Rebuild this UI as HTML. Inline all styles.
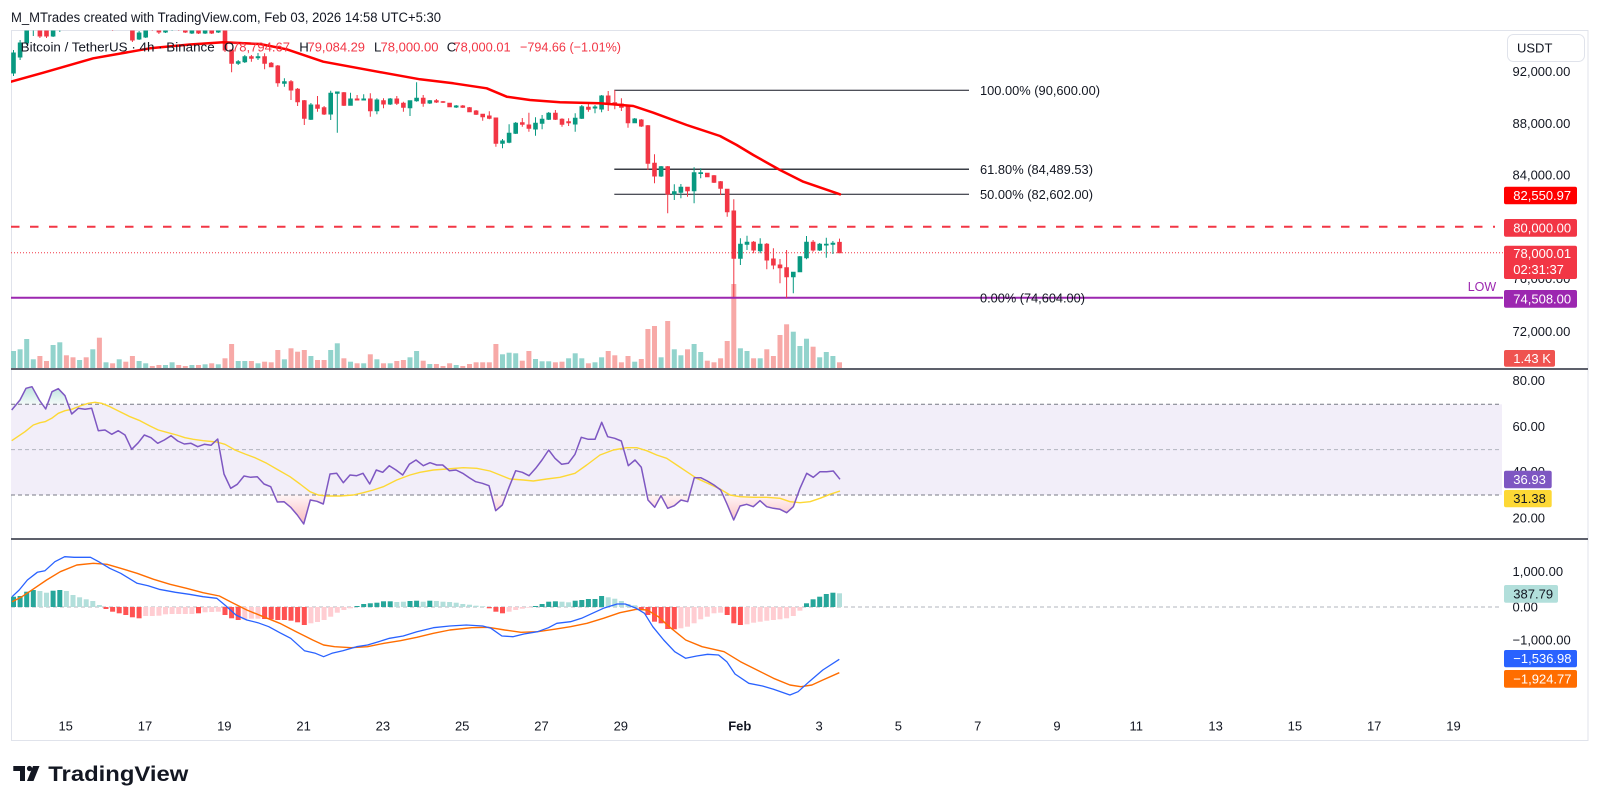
<!DOCTYPE html>
<html><head><meta charset="utf-8"><style>
html,body{margin:0;padding:0;background:#fff;}
svg{display:block;font-family:"Liberation Sans",sans-serif;}
</style></head><body>
<svg width="1600" height="807" viewBox="0 0 1600 807" xmlns="http://www.w3.org/2000/svg">
<defs>
<clipPath id="cpMain"><rect x="11" y="30.5" width="1492" height="338"/></clipPath>
<clipPath id="cpOB"><rect x="11" y="370" width="1492" height="34.3"/></clipPath>
<clipPath id="cpOS"><rect x="11" y="495" width="1492" height="43"/></clipPath>
<linearGradient id="gOS" x1="0" y1="495" x2="0" y2="525" gradientUnits="userSpaceOnUse"><stop offset="0" stop-color="#f23645" stop-opacity="0.05"/><stop offset="1" stop-color="#f23645" stop-opacity="0.35"/></linearGradient>
<linearGradient id="gOB" x1="0" y1="404" x2="0" y2="384" gradientUnits="userSpaceOnUse"><stop offset="0" stop-color="#089981" stop-opacity="0.05"/><stop offset="1" stop-color="#089981" stop-opacity="0.3"/></linearGradient>
</defs>
<rect width="1600" height="807" fill="#fff"/>

<!-- header -->
<text x="11" y="22" font-size="13.5" fill="#131722" textLength="430" lengthAdjust="spacingAndGlyphs">M_MTrades created with TradingView.com, Feb 03, 2026 14:58 UTC+5:30</text>

<!-- frame -->
<rect x="11.5" y="30.5" width="1576.5" height="710" fill="none" stroke="#e0e3eb" stroke-width="1"/>

<!-- ===== MAIN PANE ===== -->
<g clip-path="url(#cpMain)">
<!-- volume -->
<g fill="#92d3cc">
<rect x="11" y="351" width="5" height="17"/><rect x="17.6" y="349.3" width="5" height="18.7"/><rect x="24.2" y="339" width="5" height="29"/><rect x="30.8" y="359.3" width="5" height="8.7"/><rect x="50.6" y="345" width="5" height="23"/><rect x="57.3" y="342.3" width="5" height="25.7"/><rect x="77.1" y="360" width="5" height="8"/><rect x="90.3" y="349.3" width="5" height="18.7"/><rect x="103.5" y="362.3" width="5" height="5.7"/><rect x="116.7" y="359.3" width="5" height="8.7"/><rect x="136.6" y="361" width="5" height="7"/><rect x="143.2" y="363.3" width="5" height="4.7"/><rect x="163" y="365" width="5" height="3"/><rect x="169.6" y="362.3" width="5" height="5.7"/><rect x="189.4" y="365" width="5" height="3"/><rect x="202.6" y="364.3" width="5" height="3.7"/><rect x="215.8" y="364.3" width="5" height="3.7"/><rect x="235.7" y="361" width="5" height="7"/><rect x="242.3" y="361" width="5" height="7"/><rect x="255.5" y="363.3" width="5" height="4.7"/><rect x="281.9" y="359.3" width="5" height="8.7"/><rect x="308.4" y="356" width="5" height="12"/><rect x="328.2" y="350" width="5" height="18"/><rect x="334.8" y="343.3" width="5" height="24.7"/><rect x="348" y="361.7" width="5" height="6.3"/><rect x="361.2" y="363.3" width="5" height="4.7"/><rect x="374.4" y="359.3" width="5" height="8.7"/><rect x="387.7" y="363.3" width="5" height="4.7"/><rect x="407.5" y="357.3" width="5" height="10.7"/><rect x="414.1" y="351" width="5" height="17"/><rect x="427.3" y="364" width="5" height="4"/><rect x="453.7" y="365" width="5" height="3"/><rect x="500" y="354.3" width="5" height="13.7"/><rect x="506.6" y="352.7" width="5" height="15.3"/><rect x="513.2" y="353.3" width="5" height="14.7"/><rect x="533" y="359" width="5" height="9"/><rect x="539.6" y="361.3" width="5" height="6.7"/><rect x="546.2" y="361.3" width="5" height="6.7"/><rect x="566.1" y="358.3" width="5" height="9.7"/><rect x="572.7" y="353.3" width="5" height="14.7"/><rect x="579.3" y="358.3" width="5" height="9.7"/><rect x="592.5" y="362.3" width="5" height="5.7"/><rect x="599.1" y="357.3" width="5" height="10.7"/><rect x="632.2" y="361.7" width="5" height="6.3"/><rect x="658.6" y="357.3" width="5" height="10.7"/><rect x="671.8" y="349.3" width="5" height="18.7"/><rect x="678.4" y="355.3" width="5" height="12.7"/><rect x="691.6" y="344" width="5" height="24"/><rect x="698.2" y="352" width="5" height="16"/><rect x="737.9" y="348.3" width="5" height="19.7"/><rect x="744.5" y="351" width="5" height="17"/><rect x="757.7" y="358.3" width="5" height="9.7"/><rect x="790.8" y="331.7" width="5" height="36.3"/><rect x="797.4" y="346" width="5" height="22"/><rect x="804" y="338.7" width="5" height="29.3"/><rect x="817.2" y="357.3" width="5" height="10.7"/><rect x="823.8" y="352" width="5" height="16"/><rect x="830.4" y="356" width="5" height="12"/>
</g>
<g fill="#f7a9a7">
<rect x="37.4" y="356" width="5" height="12"/><rect x="44" y="361" width="5" height="7"/><rect x="63.9" y="355.3" width="5" height="12.7"/><rect x="70.5" y="357.3" width="5" height="10.7"/><rect x="83.7" y="357.3" width="5" height="10.7"/><rect x="96.9" y="337.7" width="5" height="30.3"/><rect x="110.1" y="363.3" width="5" height="4.7"/><rect x="123.3" y="361.7" width="5" height="6.3"/><rect x="129.9" y="356" width="5" height="12"/><rect x="149.8" y="366" width="5" height="2"/><rect x="156.4" y="365" width="5" height="3"/><rect x="176.2" y="365" width="5" height="3"/><rect x="182.8" y="366" width="5" height="2"/><rect x="196" y="365" width="5" height="3"/><rect x="209.2" y="363.3" width="5" height="4.7"/><rect x="222.5" y="358.3" width="5" height="9.7"/><rect x="229.1" y="344" width="5" height="24"/><rect x="248.9" y="361" width="5" height="7"/><rect x="262.1" y="361.7" width="5" height="6.3"/><rect x="268.7" y="362.3" width="5" height="5.7"/><rect x="275.3" y="350" width="5" height="18"/><rect x="288.5" y="348.3" width="5" height="19.7"/><rect x="295.1" y="351.7" width="5" height="16.3"/><rect x="301.8" y="350" width="5" height="18"/><rect x="315" y="360" width="5" height="8"/><rect x="321.6" y="360" width="5" height="8"/><rect x="341.4" y="358.3" width="5" height="9.7"/><rect x="354.6" y="363.3" width="5" height="4.7"/><rect x="367.8" y="354.3" width="5" height="13.7"/><rect x="381" y="363.3" width="5" height="4.7"/><rect x="394.3" y="361" width="5" height="7"/><rect x="400.9" y="360" width="5" height="8"/><rect x="420.7" y="360.7" width="5" height="7.3"/><rect x="433.9" y="364" width="5" height="4"/><rect x="440.5" y="366" width="5" height="2"/><rect x="447.1" y="363.3" width="5" height="4.7"/><rect x="460.3" y="366" width="5" height="2"/><rect x="467" y="364" width="5" height="4"/><rect x="473.6" y="362.3" width="5" height="5.7"/><rect x="480.2" y="362.3" width="5" height="5.7"/><rect x="486.8" y="362.3" width="5" height="5.7"/><rect x="493.4" y="344" width="5" height="24"/><rect x="519.8" y="360.7" width="5" height="7.3"/><rect x="526.4" y="351" width="5" height="17"/><rect x="552.9" y="362.3" width="5" height="5.7"/><rect x="559.5" y="361.7" width="5" height="6.3"/><rect x="585.9" y="363.3" width="5" height="4.7"/><rect x="605.7" y="351" width="5" height="17"/><rect x="612.3" y="355.3" width="5" height="12.7"/><rect x="618.9" y="362.3" width="5" height="5.7"/><rect x="625.5" y="356" width="5" height="12"/><rect x="638.8" y="359" width="5" height="9"/><rect x="645.4" y="329" width="5" height="39"/><rect x="652" y="326" width="5" height="42"/><rect x="665.2" y="321" width="5" height="47"/><rect x="685" y="349.3" width="5" height="18.7"/><rect x="704.8" y="360.7" width="5" height="7.3"/><rect x="711.5" y="362.3" width="5" height="5.7"/><rect x="718.1" y="358.3" width="5" height="9.7"/><rect x="724.7" y="341" width="5" height="27"/><rect x="731.3" y="284" width="5" height="84"/><rect x="751.1" y="358.3" width="5" height="9.7"/><rect x="764.3" y="349.3" width="5" height="18.7"/><rect x="770.9" y="356" width="5" height="12"/><rect x="777.5" y="335" width="5" height="33"/><rect x="784.1" y="324.3" width="5" height="43.7"/><rect x="810.6" y="346.7" width="5" height="21.3"/><rect x="837" y="362.3" width="5" height="5.7"/>
</g>

<!-- horizontal levels -->
<line x1="11" y1="226.8" x2="1495" y2="226.8" stroke="#f23645" stroke-width="2" stroke-dasharray="8.5 10.5"/>
<line x1="11" y1="252.7" x2="1503" y2="252.7" stroke="#f23645" stroke-width="1" stroke-dasharray="1 2"/>
<line x1="11" y1="297.8" x2="1503" y2="297.8" stroke="#9c27b0" stroke-width="2"/>

<!-- fib -->
<line x1="614.3" y1="90.3" x2="969" y2="90.3" stroke="#131722" stroke-width="1"/>
<line x1="614.3" y1="169.3" x2="969" y2="169.3" stroke="#3a3d45" stroke-width="1.5"/>
<line x1="614.3" y1="194.3" x2="969" y2="194.3" stroke="#131722" stroke-width="1"/>

<!-- candles green -->
<g fill="#089981" stroke="#089981" stroke-width="1">
<path d="M13.5 50V76M11.7 53H15.3V73H11.7Z"/><path d="M20.1 40V60M18.3 43H21.9V57H18.3Z"/><path d="M26.7 22V45M24.9 28H28.5V43H24.9Z"/><path d="M33.3 18V36M31.5 22H35.1V30H31.5Z"/><path d="M53.1 25V37M51.3 28H54.9V36H51.3Z"/><path d="M59.8 17V32M58 20H61.6V30H58Z"/><path d="M79.6 15V28M77.8 18H81.4V26H77.8Z"/><path d="M92.8 5V20M91 8H94.6V18H91Z"/><path d="M106 12V30M104.2 14H107.8V22H104.2Z"/><path d="M119.2 16V30M117.4 18H121V26H117.4Z"/><path d="M139.1 31V40M137.3 33H140.9V39H137.3Z"/><path d="M145.7 26V38M143.9 28H147.5V37H143.9Z"/><path d="M165.5 26V33M163.7 28H167.3V32H163.7Z"/><path d="M172.1 23V31M170.3 25H173.9V29H170.3Z"/><path d="M191.9 27V34M190.1 29H193.7V33H190.1Z"/><path d="M205.1 26V34M203.3 28H206.9V33H203.3Z"/><path d="M218.3 24V33M216.5 26H220.1V32H216.5Z"/>
<path d="M238.2 60V65M236.4 61.7H240V63.3H236.4Z"/><path d="M244.8 55V63M243 56.7H246.6V61.7H243Z"/><path d="M258 53V60M256.2 56.7H259.8V57.7H256.2Z"/><path d="M284.4 78.3V86.7M282.6 81.7H286.2V83.3H282.6Z"/><path d="M310.9 103V120M309.1 105H312.7V119.3H309.1Z"/><path d="M330.7 90.7V120M328.9 93.3H332.5V114H328.9Z"/><path d="M337.3 92V132.7M335.5 92H339.1V93.3H335.5Z"/><path d="M350.5 92.7V105.3M348.7 99H352.3V105.3H348.7Z"/><path d="M363.7 94.3V100M361.9 99H365.5V100H361.9Z"/><path d="M376.9 98.3V114.3M375.1 100H378.7V110.7H375.1Z"/><path d="M390.2 98V105M388.4 99H392V104H388.4Z"/><path d="M410 100.7V116M408.2 100.7H411.8V107.7H408.2Z"/><path d="M416.6 82.3V101.7M414.8 98.3H418.4V100.7H414.8Z"/><path d="M429.8 100V104M428 100.7H431.6V103H428Z"/><path d="M456.2 105V108M454.4 106H458V107H454.4Z"/>
<path d="M502.5 139V148.3M500.7 141H504.3V143.3H500.7Z"/><path d="M509.1 124.3V143.3M507.3 133.3H510.9V142.3H507.3Z"/><path d="M515.7 122V134M513.9 123.3H517.5V133.3H513.9Z"/><path d="M535.5 117.3V135.7M533.7 123.3H537.3V129H533.7Z"/><path d="M542.1 115V129.3M540.3 119.3H543.9V123.3H540.3Z"/><path d="M548.7 112V120M546.9 113.3H550.5V119.3H546.9Z"/><path d="M575.2 113.3V131.7M573.4 118.3H577V124H573.4Z"/><path d="M581.8 105V119M580 106.7H583.6V118.3H580Z"/><path d="M595 105V113.3M593.2 107H596.8V108H593.2Z"/><path d="M601.6 95V112.3M599.8 96H603.4V109H599.8Z"/><path d="M634.7 118V123M632.9 119H636.5V122.7H632.9Z"/><path d="M661.1 166V177M659.3 166.7H662.9V176H659.3Z"/><path d="M674.3 184.3V200M672.5 191.7H676.1V194H672.5Z"/><path d="M680.9 184V198.3M679.1 187.3H682.7V192.3H679.1Z"/><path d="M694.1 167.3V203.3M692.3 172.7H695.9V190.7H692.3Z"/><path d="M700.7 168.3V178.3M698.9 172.7H702.5V173.5H698.9Z"/>
<path d="M740.4 238.3V265M738.6 244.3H742.2V258.3H738.6Z"/><path d="M747 235.7V250M745.2 242.3H748.8V244.3H745.2Z"/><path d="M760.2 238.3V253.3M758.4 244.3H762V250.7H758.4Z"/><path d="M793.3 271.7V293.3M791.5 272.3H795.1V276.7H791.5Z"/><path d="M799.9 256V272M798.1 256.7H801.7V271.7H798.1Z"/><path d="M806.5 236V259.3M804.7 242.3H808.3V257.7H804.7Z"/><path d="M819.7 243V251M817.9 244.3H821.5V250H817.9Z"/><path d="M826.3 237.7V257.7M824.5 244.3H828.1V245H824.5Z"/><path d="M832.9 241V254M831.1 243.3H834.7V244.3H831.1Z"/>
</g>
<!-- candles red -->
<g fill="#f23645" stroke="#f23645" stroke-width="1">
<path d="M39.9 20V38M38.1 26H41.7V36H38.1Z"/><path d="M46.5 26V38M44.7 28H48.3V36H44.7Z"/><path d="M66.4 15V28M64.6 18H68.2V26H64.6Z"/><path d="M73 20V30M71.2 22H74.8V28H71.2Z"/><path d="M86.2 12V25M84.4 16H88V22H84.4Z"/><path d="M99.4 5V24M97.6 8H101.2V22H97.6Z"/><path d="M112.6 14V31M110.8 16H114.4V26H110.8Z"/><path d="M125.8 16V30M124 18H127.6V28H124Z"/><path d="M132.4 22V42M130.6 28H134.2V40H130.6Z"/><path d="M152.3 25V31M150.5 27H154.1V30H150.5Z"/><path d="M158.9 26V34M157.1 28H160.7V32H157.1Z"/><path d="M178.7 23V31M176.9 25H180.5V30H176.9Z"/><path d="M185.3 27V33M183.5 28H187.1V32H183.5Z"/><path d="M198.5 27V34M196.7 29H200.3V33H196.7Z"/><path d="M211.7 26V34M209.9 28H213.5V33H209.9Z"/><path d="M225 24V52M223.2 28H226.8V50H223.2Z"/>
<path d="M231.6 50V72.3M229.8 50H233.4V63.3H229.8Z"/><path d="M251.4 55V61.7M249.6 56.7H253.2V58.3H249.6Z"/><path d="M264.6 53.3V69.3M262.8 56.7H266.4V63.3H262.8Z"/><path d="M271.2 62V67M269.4 63.3H273V66.7H269.4Z"/><path d="M277.8 65V86.7M276 66H279.6V82.7H276Z"/><path d="M291 80V100M289.2 81.7H292.8V90H289.2Z"/><path d="M297.6 88V106M295.8 89.3H299.4V101.7H295.8Z"/><path d="M304.3 100V125M302.5 100.7H306.1V118.3H302.5Z"/><path d="M317.5 96V111.7M315.7 105H319.3V108.3H315.7Z"/><path d="M324.1 106V115M322.3 107.7H325.9V114H322.3Z"/><path d="M343.9 92V106M342.1 92.7H345.7V105.3H342.1Z"/><path d="M357.1 95V100M355.3 99H358.9V100H355.3Z"/><path d="M370.3 93.3V116.7M368.5 99H372.1V110.7H368.5Z"/><path d="M383.5 98.3V108.3M381.7 100.7H385.3V104H381.7Z"/><path d="M396.8 96V105M395 99H398.6V103.3H395Z"/><path d="M403.4 101.7V111.7M401.6 103.3H405.2V107.3H401.6Z"/><path d="M423.2 95V106.7M421.4 98.3H425V103.3H421.4Z"/>
<path d="M436.4 99V103M434.6 100.7H438.2V102H434.6Z"/><path d="M443 101V103M441.2 101.7H444.8V102.3H441.2Z"/><path d="M449.6 103V107M447.8 103.3H451.4V106.7H447.8Z"/><path d="M462.8 105V108M461 106H464.6V107.3H461Z"/><path d="M469.5 107V112M467.7 107.7H471.3V111.7H467.7Z"/><path d="M476.1 110V115M474.3 111H477.9V114.3H474.3Z"/><path d="M482.7 114V120.7M480.9 114.3H484.5V116.7H480.9Z"/><path d="M489.3 111.3V119.3M487.5 116H491.1V118.3H487.5Z"/><path d="M495.9 118V146.7M494.1 118H497.7V143.3H494.1Z"/><path d="M522.3 118V126.7M520.5 122.7H524.1V124.3H520.5Z"/><path d="M528.9 112.7V131.7M527.1 125H530.7V128.3H527.1Z"/><path d="M555.4 110V120M553.6 113.3H557.2V119.3H553.6Z"/><path d="M562 118.3V126.7M560.2 119.3H563.8V124.3H560.2Z"/><path d="M568.6 118.3V126M566.8 121.7H570.4V122.7H566.8Z"/><path d="M588.4 104V111.7M586.6 107.3H590.2V109.3H586.6Z"/>
<path d="M608.2 91V111M606.4 96H610V104H606.4Z"/><path d="M614.8 90V109.3M613 102.7H616.6V105H613Z"/><path d="M621.4 98.3V111M619.6 104H623.2V107.3H619.6Z"/><path d="M628 106V127.7M626.2 106.7H629.8V122.7H626.2Z"/><path d="M641.3 119V127M639.5 120H643.1V126H639.5Z"/><path d="M647.9 125V170M646.1 125.7H649.7V163.3H646.1Z"/><path d="M654.5 154.3V183.3M652.7 163.3H656.3V176H652.7Z"/><path d="M667.7 166V213.3M665.9 166.7H669.5V194H665.9Z"/><path d="M687.5 187V196.7M685.7 187.3H689.3V190.7H685.7Z"/><path d="M707.3 173V177M705.5 173.3H709.1V176.7H705.5Z"/><path d="M714 175V183M712.2 175.7H715.8V182.3H712.2Z"/><path d="M720.6 181V195M718.8 181.7H722.4V188.3H718.8Z"/><path d="M727.2 189V216.7M725.4 189.3H729V211.7H725.4Z"/><path d="M733.8 199.3V297M732 211H735.6V258.3H732Z"/>
<path d="M753.6 241V253.3M751.8 242.3H755.4V250H751.8Z"/><path d="M766.8 243V269.3M765 244.3H768.6V260H765Z"/><path d="M773.4 248.3V269.3M771.6 259H775.2V265H771.6Z"/><path d="M780 259V283.3M778.2 265H781.8V267.7H778.2Z"/><path d="M786.6 250V298M784.8 267.7H788.4V276.7H784.8Z"/><path d="M813.1 240V251.7M811.3 242.3H814.9V250H811.3Z"/><path d="M839.5 238.6V252.7M837.7 242.4H841.3V252.7H837.7Z"/>
</g>

<!-- MA -->
<polyline fill="none" stroke="#ff0000" stroke-width="2.5" stroke-linejoin="round" stroke-linecap="round" points="11,81.7 43.3,72.7 93.3,58.3 150,48.3 190,44.5 223.3,42.3 260,44 286.7,49.3 323.3,61.7 383.3,72.7 420,79.3 453.3,83.3 486.7,88.3 506.7,96.7 530,100 560,102.3 600,103.3 633.3,106 653.3,112.7 686.7,125 720,136 736.7,145 753.3,155 780,170 803.3,181.7 840,194.3"/>
</g>

<!-- legend -->
<g font-size="13.2">
<text x="20.7" y="51.7" fill="#131722" textLength="194" lengthAdjust="spacingAndGlyphs">Bitcoin / TetherUS · 4h · Binance</text>
<text x="224" y="51.7" fill="#131722">O</text>
<text x="232" y="51.7" fill="#f23645" textLength="58" lengthAdjust="spacingAndGlyphs">78,794.67</text>
<text x="299.3" y="51.7" fill="#131722">H</text>
<text x="307.5" y="51.7" fill="#f23645" textLength="57.5" lengthAdjust="spacingAndGlyphs">79,084.29</text>
<text x="374" y="51.7" fill="#131722">L</text>
<text x="380.5" y="51.7" fill="#f23645" textLength="58" lengthAdjust="spacingAndGlyphs">78,000.00</text>
<text x="446.7" y="51.7" fill="#131722">C</text>
<text x="453.5" y="51.7" fill="#f23645" textLength="57.2" lengthAdjust="spacingAndGlyphs">78,000.01</text>
<text x="520" y="51.7" fill="#f23645" textLength="101" lengthAdjust="spacingAndGlyphs">−794.66 (−1.01%)</text>
</g>

<!-- fib labels -->
<g font-size="13" fill="#131722">
<text x="980" y="94.8" textLength="120" lengthAdjust="spacingAndGlyphs">100.00% (90,600.00)</text>
<text x="980" y="173.8" textLength="113" lengthAdjust="spacingAndGlyphs">61.80% (84,489.53)</text>
<text x="980" y="198.8" textLength="113" lengthAdjust="spacingAndGlyphs">50.00% (82,602.00)</text>
<text x="980" y="302.5" textLength="105" lengthAdjust="spacingAndGlyphs">0.00% (74,604.00)</text>
</g>
<text x="1467.7" y="291" font-size="12.5" fill="#9c27b0">LOW</text>

<!-- pane separators -->
<line x1="11" y1="369" x2="1588" y2="369" stroke="#5d606b" stroke-width="2"/>
<line x1="11" y1="539" x2="1588" y2="539" stroke="#5d606b" stroke-width="2"/>

<!-- ===== RSI PANE ===== -->
<rect x="11" y="404.3" width="1491" height="90.7" fill="#f2eef9"/>
<line x1="11" y1="404.3" x2="1502" y2="404.3" stroke="#787b86" stroke-width="1" stroke-dasharray="4 3"/>
<line x1="11" y1="449.6" x2="1502" y2="449.6" stroke="#b2b5be" stroke-width="1" stroke-dasharray="4 3"/>
<line x1="11" y1="495" x2="1502" y2="495" stroke="#787b86" stroke-width="1" stroke-dasharray="4 3"/>
<g clip-path="url(#cpOB)"><polygon fill="url(#gOB)" points="11.7,404.3 11.7,410 20,400 26,388.3 32,386.7 39.3,400 45.7,409 52,391.7 58.3,388.7 65,395.7 71.7,414 71.7,404.3"/></g>
<g clip-path="url(#cpOS)"><polygon fill="url(#gOS)" points="11.7,495 11.7,410 20,400 26,388.3 32,386.7 39.3,400 45.7,409 52,391.7 58.3,388.7 65,395.7 71.7,414 78.3,408.3 85,409.3 91.7,408.3 98.3,430.7 105,430 111.7,434.3 118.3,430.7 125,435 131.7,449.3 138.3,442.7 144.3,435 151,437.7 157.7,443.3 164.3,440 171,435.7 177.7,441 184.3,444 191,443.3 197.7,446.7 204.3,444.3 211,445.3 217.7,439 224,474 230.7,488.3 237.3,484.3 244,476 250.7,477.3 257.3,476.7 264,484 270.7,486.7 277.3,502 284,501.7 290.7,507.3 297.3,515 303.7,524 310.3,500 317,501.3 323.3,504 330,474 336.7,473.3 343.3,482.7 350,475 356.7,475.7 363,473.3 369.7,484 376.3,470 382.7,472.3 389.3,465.7 396,470 402.7,475 409.3,464.3 416,460 423.3,465.7 430,462.7 436.7,465 442.7,465 449.3,470.7 456,470 462.7,473.3 469.3,477.7 475.7,481.7 482.3,483.3 489,485.7 495.7,510.7 502.3,505 509,487.3 515.7,470.7 522.3,472.3 529,475.7 535.7,468.3 542,460 548.7,450 555,458.3 561.7,464.3 568.3,463.3 575,454.3 581.3,437.3 588.3,439.3 595,439.3 601.7,422.3 607.7,436.7 614.7,438.3 621.3,441 628.3,465.7 635,460 641.3,467.3 648,500 654.7,507.3 661,495.7 667.7,508.3 674.3,505.7 681,500 687.7,501.7 694.3,477.7 700.7,477.7 707.3,481 714,485 720.7,490 727,504 733.7,520 740,506 746.7,504.3 753.3,506.7 760,500.7 766.7,506.7 773.3,508.3 780,509.3 786.7,512.7 793.3,506.7 800,488.3 806.7,473.3 813.3,477.3 820,471.7 826.7,471.7 833.3,471 840,479.3 840,495"/></g>
<polyline fill="none" stroke="#fdd835" stroke-width="1.4" stroke-linejoin="round" points="11.7,440.7 25,431.7 33.3,425 40,422.7 45,421.7 51.7,418.3 58.3,413.3 65,410.7 71.7,409.3 80,406 88.3,403.3 95,402.3 101.7,403.3 110,406.7 120,411.7 130,416.7 140,420.7 150,426 158.3,430 166.7,432.3 176.7,435 185,437.7 193.3,439.3 203.3,440.7 216.7,442 225,444.3 235,450 245,454 255,457.7 266.7,463.3 278.3,470 290,476.7 300,484 310,491.7 318.3,495 326.7,496 340,496 353.3,495 363.3,492.7 373.3,490 383.3,486.7 396.7,480 410,475 420,472.3 433.3,470 446.7,469 463.3,467.7 476.7,468.3 490,471 500,475 510,479 523.3,480 533.3,481 546.7,479 560,477.3 575,473.3 586.7,465 600,455 613.3,450 626.7,447.7 636.7,447.7 646.7,450.7 656.7,455 666.7,458.3 676.7,465 686.7,471.7 696.7,478.3 710,484.3 720,489 730,495 740,496.7 753.3,497.3 766.7,497.3 780,498.3 790,501.7 800,502.7 810,501.7 820,498.3 830,494.3 840,491"/>
<polyline fill="none" stroke="#7e57c2" stroke-width="1.5" stroke-linejoin="round" points="11.7,410 20,400 26,388.3 32,386.7 39.3,400 45.7,409 52,391.7 58.3,388.7 65,395.7 71.7,414 78.3,408.3 85,409.3 91.7,408.3 98.3,430.7 105,430 111.7,434.3 118.3,430.7 125,435 131.7,449.3 138.3,442.7 144.3,435 151,437.7 157.7,443.3 164.3,440 171,435.7 177.7,441 184.3,444 191,443.3 197.7,446.7 204.3,444.3 211,445.3 217.7,439 224,474 230.7,488.3 237.3,484.3 244,476 250.7,477.3 257.3,476.7 264,484 270.7,486.7 277.3,502 284,501.7 290.7,507.3 297.3,515 303.7,524 310.3,500 317,501.3 323.3,504 330,474 336.7,473.3 343.3,482.7 350,475 356.7,475.7 363,473.3 369.7,484 376.3,470 382.7,472.3 389.3,465.7 396,470 402.7,475 409.3,464.3 416,460 423.3,465.7 430,462.7 436.7,465 442.7,465 449.3,470.7 456,470 462.7,473.3 469.3,477.7 475.7,481.7 482.3,483.3 489,485.7 495.7,510.7 502.3,505 509,487.3 515.7,470.7 522.3,472.3 529,475.7 535.7,468.3 542,460 548.7,450 555,458.3 561.7,464.3 568.3,463.3 575,454.3 581.3,437.3 588.3,439.3 595,439.3 601.7,422.3 607.7,436.7 614.7,438.3 621.3,441 628.3,465.7 635,460 641.3,467.3 648,500 654.7,507.3 661,495.7 667.7,508.3 674.3,505.7 681,500 687.7,501.7 694.3,477.7 700.7,477.7 707.3,481 714,485 720.7,490 727,504 733.7,520 740,506 746.7,504.3 753.3,506.7 760,500.7 766.7,506.7 773.3,508.3 780,509.3 786.7,512.7 793.3,506.7 800,488.3 806.7,473.3 813.3,477.3 820,471.7 826.7,471.7 833.3,471 840,479.3"/>

<!-- ===== MACD PANE ===== -->
<line x1="11" y1="607" x2="1502" y2="607" stroke="#b2b5be" stroke-width="1" stroke-dasharray="4 3"/>
<g fill="#26a69a">
<rect x="11" y="596.7" width="5" height="10.3"/><rect x="17.6" y="596" width="5" height="11"/><rect x="24.2" y="591.7" width="5" height="15.3"/><rect x="30.8" y="590" width="5" height="17"/><rect x="50.6" y="590.7" width="5" height="16.3"/><rect x="57.3" y="590" width="5" height="17"/><rect x="354.6" y="606" width="5" height="1"/><rect x="361.2" y="604" width="5" height="3"/><rect x="367.8" y="603.3" width="5" height="3.7"/><rect x="374.4" y="602.7" width="5" height="4.3"/><rect x="381" y="601.3" width="5" height="5.7"/><rect x="387.7" y="601.3" width="5" height="5.7"/><rect x="407.5" y="601" width="5" height="6"/><rect x="414.1" y="600.7" width="5" height="6.3"/><rect x="427.3" y="600.7" width="5" height="6.3"/><rect x="533" y="606" width="5" height="1"/><rect x="539.6" y="604" width="5" height="3"/><rect x="546.2" y="601.7" width="5" height="5.3"/><rect x="552.9" y="601.3" width="5" height="5.7"/><rect x="572.7" y="600.7" width="5" height="6.3"/><rect x="579.3" y="600" width="5" height="7"/><rect x="585.9" y="599" width="5" height="8"/><rect x="592.5" y="599" width="5" height="8"/><rect x="599.1" y="596" width="5" height="11"/><rect x="804" y="603.3" width="5" height="3.7"/><rect x="810.6" y="599.3" width="5" height="7.7"/><rect x="817.2" y="596.7" width="5" height="10.3"/><rect x="823.8" y="594" width="5" height="13"/><rect x="830.4" y="592.7" width="5" height="14.3"/>
</g>
<g fill="#b2dfdb">
<rect x="37.4" y="591" width="5" height="16"/><rect x="44" y="592.7" width="5" height="14.3"/><rect x="63.9" y="591" width="5" height="16"/><rect x="70.5" y="595" width="5" height="12"/><rect x="77.1" y="597.3" width="5" height="9.7"/><rect x="83.7" y="599.3" width="5" height="7.7"/><rect x="90.3" y="601" width="5" height="6"/><rect x="96.9" y="605" width="5" height="2"/><rect x="394.3" y="602" width="5" height="5"/><rect x="400.9" y="601.7" width="5" height="5.3"/><rect x="420.7" y="601.7" width="5" height="5.3"/><rect x="433.9" y="601" width="5" height="6"/><rect x="440.5" y="601.7" width="5" height="5.3"/><rect x="447.1" y="602" width="5" height="5"/><rect x="453.7" y="602.7" width="5" height="4.3"/><rect x="460.3" y="604" width="5" height="3"/><rect x="467" y="604.7" width="5" height="2.3"/><rect x="473.6" y="605.7" width="5" height="1.3"/><rect x="480.2" y="606.3" width="5" height="0.7"/><rect x="559.5" y="601.7" width="5" height="5.3"/><rect x="566.1" y="602.3" width="5" height="4.7"/><rect x="605.7" y="597.3" width="5" height="9.7"/><rect x="612.3" y="598.7" width="5" height="8.3"/><rect x="618.9" y="601" width="5" height="6"/><rect x="625.5" y="604" width="5" height="3"/><rect x="632.2" y="605.3" width="5" height="1.7"/><rect x="837" y="593.3" width="5" height="13.7"/>
</g>
<g fill="#ff5252">
<rect x="103.5" y="607" width="5" height="2"/><rect x="110.1" y="607" width="5" height="4.7"/><rect x="116.7" y="607" width="5" height="6.3"/><rect x="123.3" y="607" width="5" height="8"/><rect x="129.9" y="607" width="5" height="10.3"/><rect x="136.6" y="607" width="5" height="11.3"/><rect x="196" y="607" width="5" height="6.3"/><rect x="222.5" y="607" width="5" height="8"/><rect x="229.1" y="607" width="5" height="11.3"/><rect x="235.7" y="607" width="5" height="13"/><rect x="262.1" y="607" width="5" height="12"/><rect x="268.7" y="607" width="5" height="12.3"/><rect x="275.3" y="607" width="5" height="13"/><rect x="281.9" y="607" width="5" height="13"/><rect x="288.5" y="607" width="5" height="13.7"/><rect x="295.1" y="607" width="5" height="15.3"/><rect x="301.8" y="607" width="5" height="18"/><rect x="486.8" y="607" width="5" height="1.3"/><rect x="493.4" y="607" width="5" height="4.7"/><rect x="500" y="607" width="5" height="6.3"/><rect x="638.8" y="607" width="5" height="3"/><rect x="645.4" y="607" width="5" height="8"/><rect x="652" y="607" width="5" height="14.7"/><rect x="658.6" y="607" width="5" height="16.3"/><rect x="665.2" y="607" width="5" height="22"/><rect x="671.8" y="607" width="5" height="22.3"/><rect x="724.7" y="607" width="5" height="8"/><rect x="731.3" y="607" width="5" height="16.3"/><rect x="737.9" y="607" width="5" height="18"/>
</g>
<g fill="#ffcdd2">
<rect x="143.2" y="607" width="5" height="9"/><rect x="149.8" y="607" width="5" height="9"/><rect x="156.4" y="607" width="5" height="8.7"/><rect x="163" y="607" width="5" height="7.3"/><rect x="169.6" y="607" width="5" height="7"/><rect x="176.2" y="607" width="5" height="7"/><rect x="182.8" y="607" width="5" height="7"/><rect x="189.4" y="607" width="5" height="7"/><rect x="202.6" y="607" width="5" height="5.3"/><rect x="209.2" y="607" width="5" height="5"/><rect x="215.8" y="607" width="5" height="4.7"/><rect x="242.3" y="607" width="5" height="12.3"/><rect x="248.9" y="607" width="5" height="11.7"/><rect x="255.5" y="607" width="5" height="11.7"/><rect x="308.4" y="607" width="5" height="16.3"/><rect x="315" y="607" width="5" height="15"/><rect x="321.6" y="607" width="5" height="13"/><rect x="328.2" y="607" width="5" height="9.7"/><rect x="334.8" y="607" width="5" height="5.7"/><rect x="341.4" y="607" width="5" height="3"/><rect x="348" y="607" width="5" height="1.3"/><rect x="506.6" y="607" width="5" height="4.7"/><rect x="513.2" y="607" width="5" height="3"/><rect x="519.8" y="607" width="5" height="1.7"/><rect x="526.4" y="607" width="5" height="0.7"/><rect x="678.4" y="607" width="5" height="21.3"/><rect x="685" y="607" width="5" height="19.7"/><rect x="691.6" y="607" width="5" height="16.3"/><rect x="698.2" y="607" width="5" height="12.3"/><rect x="704.8" y="607" width="5" height="9.7"/><rect x="711.5" y="607" width="5" height="6.3"/><rect x="718.1" y="607" width="5" height="5.7"/><rect x="744.5" y="607" width="5" height="17.3"/><rect x="751.1" y="607" width="5" height="15.7"/><rect x="757.7" y="607" width="5" height="14.7"/><rect x="764.3" y="607" width="5" height="13.7"/><rect x="770.9" y="607" width="5" height="13"/><rect x="777.5" y="607" width="5" height="12.3"/><rect x="784.1" y="607" width="5" height="11.3"/><rect x="790.8" y="607" width="5" height="9"/><rect x="797.4" y="607" width="5" height="3.7"/>
</g>
<polyline fill="none" stroke="#ff6d00" stroke-width="1.4" stroke-linejoin="round" points="12.1,601.7 21.9,596.7 32.9,589.3 46.6,580 60.3,571.7 76.8,565 93.3,563.3 107,564.3 120.7,568.3 137.1,573.3 153.6,579.3 170.1,584.3 186.5,588.3 203,592.7 219.4,596 230.4,601.7 246.8,610 263.3,616.7 279.8,623.3 296.2,631.7 312.7,640 323.6,645 334.6,646.7 351.1,647.7 367.5,646.7 384,643.3 400.4,640.7 416.9,637.3 433.4,633.3 449.8,630 471.7,627.7 488.2,627.3 504.7,630 521.1,632.3 537.6,631.7 554,629.3 570.5,626.7 587,623.3 603.4,618.3 619.9,612.7 636.3,609.3 647.3,610 658.3,616.7 669.2,626.7 685.7,640 702.1,646.7 724.1,651.7 740.5,661.7 757,670 773.5,678.3 789.9,685 800.9,686.7 811.9,685 822.8,680 839.3,672.7"/>
<polyline fill="none" stroke="#2962ff" stroke-width="1.3" stroke-linejoin="round" points="12.1,596.7 19.2,590 27.4,580 37.3,572.3 45,570.7 54.9,561.7 64.7,556.7 74.1,557.3 90.5,557.3 98.7,561.7 109.7,568.3 120.7,573.3 137.1,583.3 148.1,585.7 159.1,589.3 175.5,592.3 189.3,594.3 203,596.7 216.7,598.3 224.9,605 235.9,615 246.8,620 257.8,622.7 268.8,626.7 279.8,632.7 290.7,638.3 304.4,650.7 315.4,653.3 323.6,656.7 331.9,653.3 342.8,650.7 356.6,646.7 367.5,645 378.5,641.7 389.5,638.3 403.2,636 416.9,631.7 433.4,627.7 449.8,626 466.3,625 482.7,626 491,628.3 501.9,636 512.9,636.7 523.9,634 537.6,631.7 548.5,627.7 556.8,623.3 570.5,621.7 581.5,618.3 592.4,613.3 603.4,608.3 617.1,604 625.3,604 636.3,608.3 644.5,613.3 652.8,626.7 663.7,640 674.7,651.7 685.7,658.3 696.7,656 707.6,654.3 718.6,655 726.8,661.7 735,674 748.8,683.3 762.5,686 773.5,689.3 789.9,695 798.1,691.7 809.1,681.7 822.8,670 839.3,659.3"/>

<!-- ===== PRICE AXIS ===== -->
<rect x="1507.5" y="34.5" width="77" height="27" rx="6" fill="#fff" stroke="#e0e3eb"/>
<text x="1517" y="52.5" font-size="13" fill="#131722">USDT</text>
<g font-size="13" fill="#131722">
<text x="1512.5" y="76.2">92,000.00</text>
<text x="1512.5" y="127.8">88,000.00</text>
<text x="1512.5" y="179.5">84,000.00</text>
<text x="1512.5" y="283">76,000.00</text>
<text x="1512.5" y="336.2">72,000.00</text>
<text x="1512.5" y="385.2">80.00</text>
<text x="1512.5" y="431.2">60.00</text>
<text x="1512.5" y="476">40.00</text>
<text x="1512.5" y="522.5">20.00</text>
<text x="1512.5" y="576.2">1,000.00</text>
<text x="1512.5" y="611.5">0.00</text>
<text x="1512.5" y="644.5">−1,000.00</text>
</g>
<g font-size="13">
<rect x="1504" y="186.7" width="73" height="17.5" rx="2" fill="#ff0000"/>
<text x="1513.3" y="199.8" fill="#fff">82,550.97</text>
<rect x="1504" y="219" width="73" height="17.7" rx="2" fill="#f23645"/>
<text x="1513.3" y="232.3" fill="#fff">80,000.00</text>
<rect x="1504" y="245.7" width="73" height="33.3" rx="2" fill="#f23645"/>
<text x="1513.3" y="258" fill="#fff">78,000.01</text>
<text x="1513.3" y="274" fill="#fff">02:31:37</text>
<rect x="1504" y="290" width="73" height="17.7" rx="2" fill="#9c27b0"/>
<text x="1513.3" y="303.3" fill="#fff">74,508.00</text>
<rect x="1504" y="350" width="51" height="16.7" rx="2" fill="#ef5350"/>
<text x="1513.3" y="362.8" fill="#fff">1.43 K</text>
<rect x="1504" y="470.7" width="47.7" height="17.6" rx="2" fill="#7e57c2"/>
<text x="1513.3" y="484" fill="#fff">36.93</text>
<rect x="1504" y="490" width="47.7" height="17.3" rx="2" fill="#fdd835"/>
<text x="1513.3" y="503" fill="#131722">31.38</text>
<rect x="1504" y="585" width="54" height="17.7" rx="2" fill="#b2dfdb"/>
<text x="1513.3" y="598.3" fill="#131722">387.79</text>
<rect x="1504" y="650" width="73" height="17.3" rx="2" fill="#2962ff"/>
<text x="1513.3" y="663" fill="#fff">−1,536.98</text>
<rect x="1504" y="670" width="73" height="17.7" rx="2" fill="#ff6d00"/>
<text x="1513.3" y="683.3" fill="#fff">−1,924.77</text>
</g>

<!-- ===== TIME AXIS ===== -->
<g font-size="13" fill="#131722" text-anchor="middle">
<text x="65.7" y="730.5">15</text>
<text x="145" y="730.5">17</text>
<text x="224.3" y="730.5">19</text>
<text x="303.6" y="730.5">21</text>
<text x="382.9" y="730.5">23</text>
<text x="462.2" y="730.5">25</text>
<text x="541.5" y="730.5">27</text>
<text x="620.8" y="730.5">29</text>
<text x="739.8" y="730.5" font-weight="bold">Feb</text>
<text x="819.1" y="730.5">3</text>
<text x="898.4" y="730.5">5</text>
<text x="977.7" y="730.5">7</text>
<text x="1057" y="730.5">9</text>
<text x="1136.3" y="730.5">11</text>
<text x="1215.6" y="730.5">13</text>
<text x="1294.9" y="730.5">15</text>
<text x="1374.2" y="730.5">17</text>
<text x="1453.5" y="730.5">19</text>
</g>

<!-- ===== LOGO ===== -->
<g fill="#131722">
<path d="M13.3 766H25V781H20V771H13.3Z"/>
<circle cx="29.5" cy="768.5" r="2.6"/>
<path d="M33 766H39.5L33.5 781H27Z"/>
</g>
<text x="48.3" y="781" font-size="21" font-weight="bold" fill="#131722" textLength="140" lengthAdjust="spacingAndGlyphs">TradingView</text>
</svg>
</body></html>
